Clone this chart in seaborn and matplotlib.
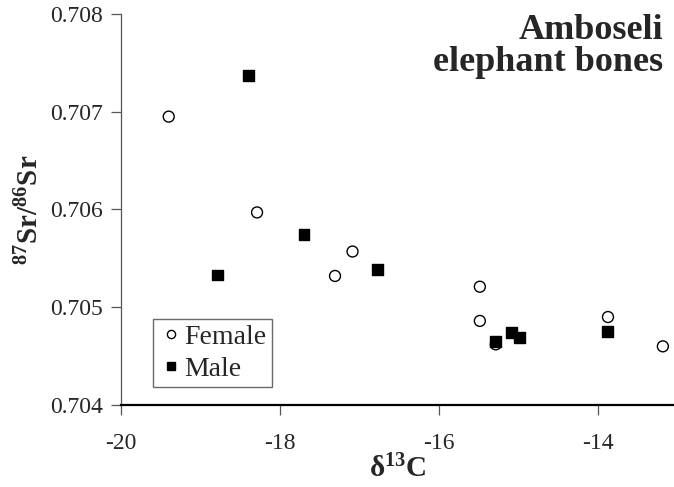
import matplotlib
matplotlib.use("Agg")
import matplotlib.pyplot as plt
import seaborn as sns
import pandas as pd

# delta 13C and 87Sr/86Sr for individual elephant bones
female_d13c = [-19.40, -18.29, -17.31, -17.09, -15.49, -15.49, -15.29, -13.88, -13.19]
female_sr = [0.70695, 0.70597, 0.70532, 0.70557, 0.70521, 0.70486, 0.70462, 0.70490, 0.70460]
male_d13c = [-18.40, -17.70, -18.79, -16.78, -15.29, -15.09, -14.99, -13.88]
male_sr = [0.70737, 0.70574, 0.70533, 0.70539, 0.70465, 0.70474, 0.70469, 0.70475]
x_ticks = [-20, -18, -16, -14]
y_ticks = [0.704, 0.705, 0.706, 0.707, 0.708]

df = pd.DataFrame({
    "d13C": female_d13c + male_d13c,
    "Sr": female_sr + male_sr,
    "Sex": ["Female"] * len(female_d13c) + ["Male"] * len(male_d13c),
})

sns.set_style("ticks")
plt.rcParams["font.family"] = ["Liberation Serif", "DejaVu Serif"]
plt.rcParams["mathtext.fontset"] = "custom"
plt.rcParams["mathtext.rm"] = "Liberation Serif"
plt.rcParams["mathtext.bf"] = "Liberation Serif:bold"
plt.rcParams["mathtext.it"] = "Liberation Serif:italic"

fig = plt.figure(figsize=(6.74, 4.87), dpi=100)
ax = fig.add_axes([0.1795, 0.1684, 0.8205, 0.8029])

sns.scatterplot(
    data=df, x="d13C", y="Sr", hue="Sex", style="Sex",
    hue_order=["Female", "Male"], style_order=["Female", "Male"],
    palette={"Female": "white", "Male": "black"},
    markers={"Female": "o", "Male": "s"},
    s=62, edgecolor="black", linewidth=1.0, ax=ax, legend=True,
)

ax.set_xlim(-20, -13.05)
ax.set_ylim(0.704, 0.708)
ax.set_xticks(x_ticks)
ax.set_xticklabels([str(t) for t in x_ticks])
ax.set_yticks(y_ticks)
ax.set_yticklabels([f"{t:.3f}" for t in y_ticks])

for side in ("top", "right"):
    ax.spines[side].set_visible(False)
ax.spines["left"].set_color("#555555")
ax.spines["left"].set_linewidth(0.9)
ax.spines["bottom"].set_color("black")
ax.spines["bottom"].set_linewidth(1.6)

ax.tick_params(axis="y", direction="out", length=7, width=0.9, color="#555555",
               labelsize=17, pad=6)
ax.tick_params(axis="x", direction="out", length=7, width=0.9, color="#555555",
               labelsize=17, pad=13)

ax.set_xlabel(r"$\mathbf{\delta^{13}C}$", fontsize=21, labelpad=1)
ax.set_ylabel(r"$\mathbf{^{87}Sr/^{86}Sr}$", fontsize=21, labelpad=4)

ax.text(0.981, 1.0, "Amboseli\nelephant bones", transform=ax.transAxes,
        ha="right", va="top", fontsize=26, fontweight="bold", linespacing=0.98)

leg = ax.legend(loc="lower left", bbox_to_anchor=(0.058, 0.046), borderaxespad=0,
                frameon=True, fancybox=False, fontsize=20, handletextpad=0.05,
                markerscale=0.75, borderpad=0.18, labelspacing=0.25,
                handlelength=0.9, title=None)
leg.get_frame().set_edgecolor("#444444")
leg.get_frame().set_linewidth(1.0)

fig.savefig("out.png", dpi=100)
